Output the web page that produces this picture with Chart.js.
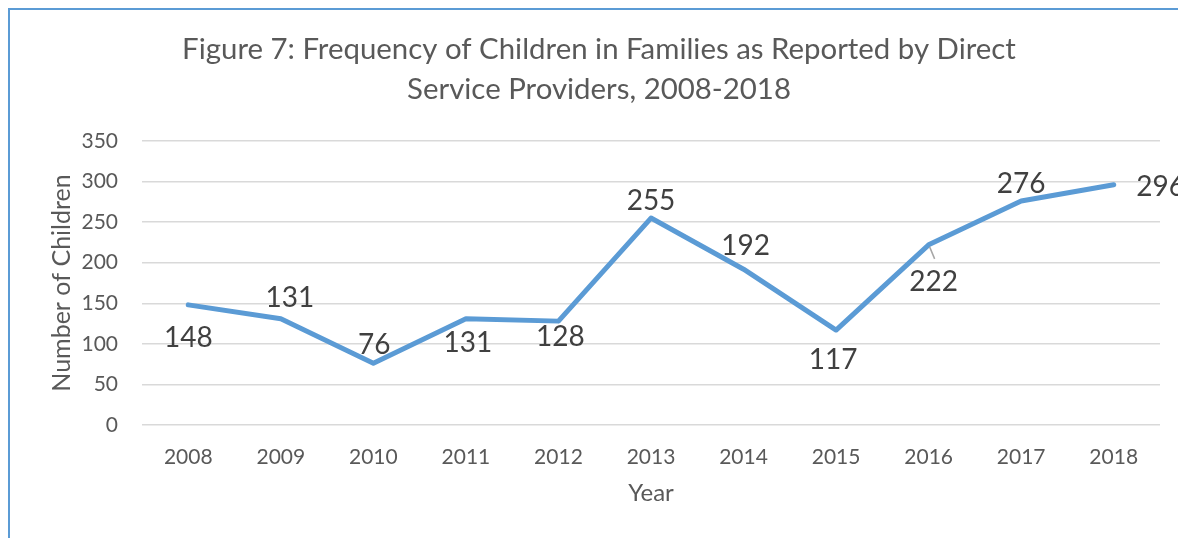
<!DOCTYPE html>
<html>
<head>
<meta charset="utf-8">
<title>Children in Families</title>
<script src="https://cdn.jsdelivr.net/npm/chart.js@4.4.1/dist/chart.umd.min.js"></script>
<style>
  html, body { margin: 0; padding: 0; background: #fff; }
  #wrap { position: relative; width: 1178px; height: 538px; }
</style>
</head>
<body>
<div id="wrap"><canvas id="chart" width="1178" height="538"></canvas></div>
<script>
const years = ['2008', '2009', '2010', '2011', '2012', '2013', '2014', '2015', '2016', '2017', '2018'];
const children = [148, 131, 76, 131, 128, 255, 192, 117, 222, 276, 296];

// where each value label sits relative to its point (px)
const labelShift = [[0, 33], [9, -21], [1, -18], [2, 24], [2, 16], [0, -17], [2, -23], [-3, 30], [5, 37], [0, -17], [47, 2]];
const leaderIndex = 8;

const FONT = 'Lato, Carlito, Calibri, sans-serif';

// thin blue frame around the chart box
const frame = {
  id: 'frame',
  beforeDraw(chart) {
    const ctx = chart.ctx;
    ctx.save();
    ctx.strokeStyle = '#5B9BD5';
    ctx.lineWidth = 2;
    ctx.beginPath();
    ctx.moveTo(9, chart.height);
    ctx.lineTo(9, 9);
    ctx.lineTo(chart.width, 9);
    ctx.stroke();
    ctx.restore();
  }
};

const valueLabels = {
  id: 'valueLabels',
  afterDatasetsDraw(chart) {
    const ctx = chart.ctx;
    const pts = chart.getDatasetMeta(0).data;
    ctx.save();
    ctx.font = '28px ' + FONT;
    ctx.fillStyle = '#404040';
    ctx.textAlign = 'center';
    ctx.textBaseline = 'middle';
    pts.forEach((p, i) => {
      const [dx, dy] = labelShift[i];
      if (i === leaderIndex) {
        ctx.strokeStyle = '#A6A6A6';
        ctx.lineWidth = 1.5;
        ctx.beginPath();
        ctx.moveTo(p.x + 1, p.y + 2);
        ctx.lineTo(p.x + 6, p.y + 14);
        ctx.stroke();
      }
      ctx.fillText(String(children[i]), p.x + dx, p.y + dy);
    });
    ctx.restore();
  }
};

new Chart(document.getElementById('chart'), {
  type: 'line',
  data: {
    labels: years,
    datasets: [{
      data: children,
      borderColor: '#5B9BD5',
      borderWidth: 5,
      borderJoinStyle: 'round',
      borderCapStyle: 'round',
      pointRadius: 0,
      tension: 0,
      fill: false
    }]
  },
  options: {
    responsive: false,
    animation: false,
    layout: { padding: { left: 38, right: 18, top: 0, bottom: 0 } },
    plugins: {
      legend: { display: false },
      tooltip: { enabled: false },
      title: {
        display: true,
        text: ['Figure 7: Frequency of Children in Families as Reported by Direct', 'Service Providers, 2008-2018'],
        color: '#595959',
        font: { family: FONT, size: 29.4, weight: 'normal', lineHeight: 1.36 },
        padding: { top: 30, bottom: 31 }
      }
    },
    scales: {
      x: {
        offset: true,
        grid: { display: false, drawTicks: false },
        border: { display: false },
        ticks: { color: '#595959', font: { family: FONT, size: 21 }, padding: 20, maxRotation: 0 },
        title: {
          display: true, text: 'Year', color: '#595959',
          font: { family: FONT, size: 24 }, padding: { top: 0, bottom: 30 }
        },
        afterFit(s) { s.height = 113; }
      },
      y: {
        min: 0, max: 350,
        grid: { color: '#D9D9D9', lineWidth: 1.5, drawTicks: false },
        border: { display: false },
        ticks: { stepSize: 50, color: '#595959', font: { family: FONT, size: 21 }, padding: 24 },
        title: {
          display: true, text: 'Number of Children', color: '#595959',
          font: { family: FONT, size: 25 }, padding: { top: 9, bottom: 0 }
        },
        afterFit(s) { s.width = 104; }
      }
    }
  },
  plugins: [frame, valueLabels]
});
</script>
</body>
</html>
